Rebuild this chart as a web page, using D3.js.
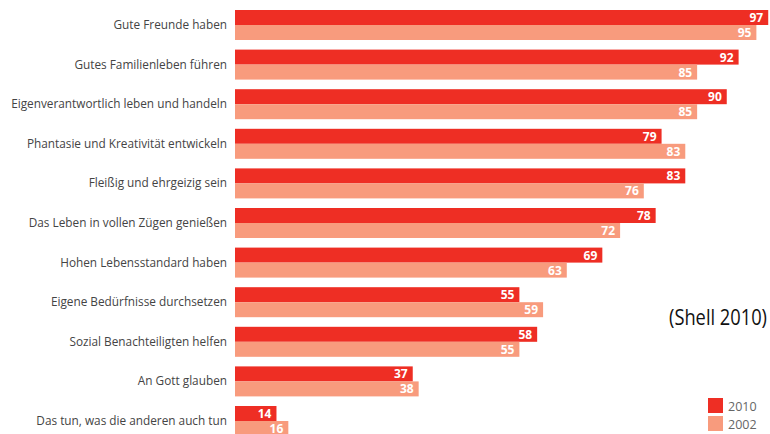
<!DOCTYPE html>
<html lang="en">
  <head>
    <meta charset="utf-8">
    <script src="https://d3js.org/d3.v7.min.js"></script>
    <style>
      body { margin: 0; background: #fff; }
    </style>
  </head>
  <body>
    <div id="chart"></div>
    <script>
      var categories = [
        "Gute Freunde haben",
        "Gutes Familienleben führen",
        "Eigenverantwortlich leben und handeln",
        "Phantasie und Kreativität entwickeln",
        "Fleißig und ehrgeizig sein",
        "Das Leben in vollen Zügen genießen",
        "Hohen Lebensstandard haben",
        "Eigene Bedürfnisse durchsetzen",
        "Sozial Benachteiligten helfen",
        "An Gott glauben",
        "Das tun, was die anderen auch tun"
      ];
      var values2010 = [97, 92, 90, 79, 83, 78, 69, 55, 58, 37, 14];
      var values2002 = [95, 85, 85, 83, 76, 72, 63, 59, 55, 38, 16];
      var seriesNames = ["2010", "2002"];

      var RED = "#EE2E24";
      var LIGHT = "#F89B7D";

      var w = 770, h = 434;
      var svg = d3.select("#chart").append("svg")
        .attr("width", w).attr("height", h);

      // bars don't start at zero in the original, axis starts around 7
      var xScale = d3.scaleLinear().domain([7, 100]).range([235, 786]);
      var yScale = d3.scaleBand().domain(categories).range([10, 406 + 39.6]).paddingInner(0).paddingOuter(0);
      var barH = 15;

      var groups = svg.selectAll("g.grp").data(categories).enter()
        .append("g").attr("class", "grp")
        .attr("transform", function(d) { return "translate(0," + yScale(d) + ")"; });

      groups.append("text")
        .attr("x", 227)
        .attr("y", barH + 4)
        .attr("text-anchor", "end")
        .attr("font-family", "Open Sans, sans-serif")
        .attr("font-size", 11.8)
        .attr("fill", "#444")
        .text(function(d) { return d; });

      var series = [values2010, values2002];
      var colors = [RED, LIGHT];
      series.forEach(function(vals, s) {
        groups.append("rect")
          .attr("x", xScale(7))
          .attr("y", s * barH)
          .attr("width", function(d, i) { return xScale(vals[i]) - xScale(7); })
          .attr("height", barH)
          .attr("fill", colors[s]);
        groups.append("text")
          .attr("x", function(d, i) { return xScale(vals[i]) - 5; })
          .attr("y", s * barH + 12)
          .attr("text-anchor", "end")
          .attr("font-family", "Open Sans, sans-serif")
          .attr("font-weight", "bold")
          .attr("font-size", 12)
          .attr("fill", "#fff")
          .text(function(d, i) { return vals[i]; });
      });

      // condensed look of the source: squeeze horizontally
      svg.append("text")
        .attr("transform", "translate(767,325) scale(0.87,1)")
        .attr("text-anchor", "end")
        .attr("font-family", "Open Sans, sans-serif")
        .attr("font-size", 21)
        .attr("fill", "#111")
        .text("(Shell 2010)");

      var legend = svg.selectAll("g.leg").data(seriesNames).enter()
        .append("g").attr("class", "leg")
        .attr("transform", function(d, i) { return "translate(708," + (398 + i * 18) + ")"; });
      legend.append("rect")
        .attr("width", 15).attr("height", 15)
        .attr("fill", function(d, i) { return colors[i]; });
      legend.append("text")
        .attr("x", 20).attr("y", 12.5)
        .attr("font-family", "Open Sans, sans-serif")
        .attr("font-size", 12.5)
        .attr("fill", "#666")
        .text(function(d) { return d; });
    </script>
  </body>
</html>
